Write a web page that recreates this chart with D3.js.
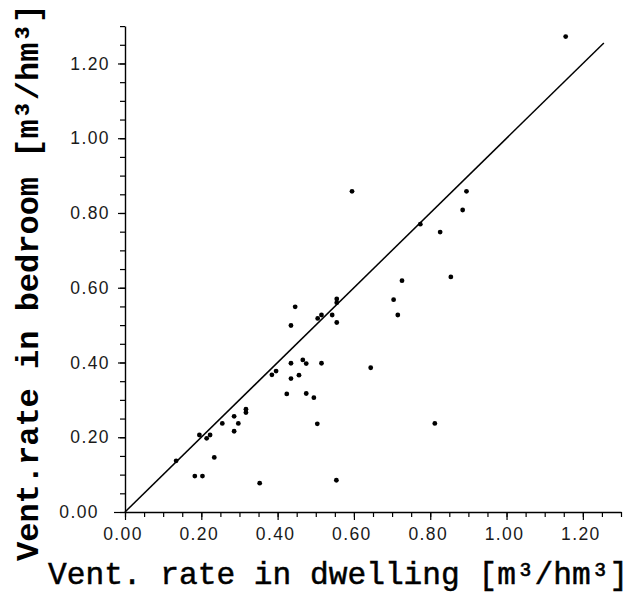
<!DOCTYPE html>
<html>
<head>
<meta charset="utf-8">
<script src="https://cdn.jsdelivr.net/npm/d3@7"></script>
<style>
  html, body { margin: 0; padding: 0; background: #fff; }
  svg { display: block; }
</style>
</head>
<body>
<svg id="chart" width="642" height="594"></svg>
<script>
// Ventilation rate per dwelling (x) vs. in the bedroom (y), m³/hm³
const dwelling = [0.134, 0.183, 0.203, 0.195, 0.214, 0.223, 0.234, 0.255, 0.286, 0.286,
                  0.297, 0.317, 0.317, 0.353, 0.385, 0.396, 0.424, 0.435, 0.435, 0.446,
                  0.435, 0.456, 0.466, 0.475, 0.475, 0.495, 0.504, 0.505, 0.515, 0.515,
                  0.543, 0.555, 0.555, 0.555, 0.554, 0.595, 0.644, 0.704, 0.715, 0.726,
                  0.774, 0.812, 0.826, 0.854, 0.885, 0.895, 1.155];
const bedroom  = [0.137, 0.096, 0.096, 0.206, 0.197, 0.206, 0.146, 0.237, 0.256, 0.216,
                  0.237, 0.275, 0.266, 0.077, 0.367, 0.377, 0.316, 0.398, 0.357, 0.549,
                  0.499, 0.366, 0.407, 0.397, 0.317, 0.306, 0.236, 0.518, 0.527, 0.398,
                  0.527, 0.570, 0.560, 0.507, 0.085, 0.858, 0.386, 0.568, 0.527, 0.619,
                  0.770, 0.237, 0.749, 0.629, 0.808, 0.858, 1.272];

// Axis ticks
const majorTicks = [0, 0.2, 0.4, 0.6, 0.8, 1.0, 1.2];
const tickLabels = ["0.00", "0.20", "0.40", "0.60", "0.80", "1.00", "1.20"];
const minorTicks = [0, 0.05, 0.1, 0.15, 0.2, 0.25, 0.3, 0.35, 0.4, 0.45, 0.5, 0.55, 0.6, 0.65,
                    0.7, 0.75, 0.8, 0.85, 0.9, 0.95, 1.0, 1.05, 1.1, 1.15, 1.2, 1.25, 1.3];
const axisDomain = [0, 1.3];

// Line of equal rates (bedroom = dwelling)
const equalLine = [0, 1.255];

const xTitle = "Vent. rate in dwelling [m³/hm³]";
const yTitle = "Vent.rate in bedroom [m³/hm³]";

const svg = d3.select("#chart");

const x = d3.scaleLinear().domain(axisDomain).range([125, 621]);
const y = d3.scaleLinear().domain(axisDomain).range([512, 26.1]);

const labelFont = "'Liberation Sans', Arial, sans-serif";
const titleFont = "'Liberation Mono', 'Courier New', monospace";

function styleAxis(g) {
  g.select(".domain").attr("stroke", "#000").attr("stroke-width", 1.4);
  g.selectAll(".tick line").attr("stroke", "#000").attr("stroke-width", 1.2);
  g.selectAll(".tick text")
    .attr("fill", "#1a1a1a")
    .style("font-family", labelFont)
    .style("font-size", "17.5px")
    .style("letter-spacing", "1.4px");
}

// x axis: minor ticks, then major ticks with labels
svg.append("g")
  .attr("transform", `translate(0,${y(0)})`)
  .call(d3.axisBottom(x).tickValues(minorTicks).tickSize(5).tickSizeOuter(0).tickFormat(""))
  .call(styleAxis);

svg.append("g")
  .attr("transform", `translate(0,${y(0)})`)
  .call(d3.axisBottom(x).tickValues(majorTicks).tickSize(8).tickSizeOuter(0).tickPadding(8)
        .tickFormat((d, i) => tickLabels[i]))
  .call(styleAxis)
  .call(g => g.select(".domain").remove())
  .call(g => g.selectAll(".tick text").attr("dx", "-2.5px"));

// y axis
svg.append("g")
  .attr("transform", `translate(${x(0)},0)`)
  .call(d3.axisLeft(y).tickValues(minorTicks).tickSize(5).tickSizeOuter(0).tickFormat(""))
  .call(styleAxis);

svg.append("g")
  .attr("transform", `translate(${x(0)},0)`)
  .call(d3.axisLeft(y).tickValues(majorTicks).tickSize(7).tickSizeOuter(0).tickPadding(8)
        .tickFormat((d, i) => tickLabels[i]))
  .call(styleAxis)
  .call(g => g.select(".domain").remove())
  // the origin tick runs on along the x axis and pushes its label further out
  .call(g => g.selectAll(".tick").filter(d => d === 0)
        .call(t => t.select("line").attr("x2", -11))
        .call(t => t.select("text").attr("x", -26)));

// equal-rate diagonal
svg.append("line")
  .attr("x1", x(equalLine[0])).attr("y1", y(equalLine[0]))
  .attr("x2", x(equalLine[1])).attr("y2", y(equalLine[1]))
  .attr("stroke", "#000").attr("stroke-width", 1.5);

// measurements
svg.append("g")
  .selectAll("circle")
  .data(dwelling.map((d, i) => [d, bedroom[i]]))
  .join("circle")
  .attr("cx", d => x(d[0]))
  .attr("cy", d => y(d[1]))
  .attr("r", 2.4)
  .attr("fill", "#000");

// axis titles
svg.append("text")
  .attr("x", 48).attr("y", 584)
  .attr("text-anchor", "start")
  .style("font-family", titleFont)
  .style("font-size", "31.2px")
  .attr("fill", "#000")
  .attr("stroke", "#000")
  .attr("stroke-width", 0.5)
  .text(xTitle);

svg.append("text")
  .attr("transform", "translate(38,561) rotate(-90)")
  .attr("text-anchor", "start")
  .style("font-family", titleFont)
  .style("font-size", "32px")
  .style("font-weight", "bold")
  .attr("fill", "#000")
  .text(yTitle);
</script>
</body>
</html>
